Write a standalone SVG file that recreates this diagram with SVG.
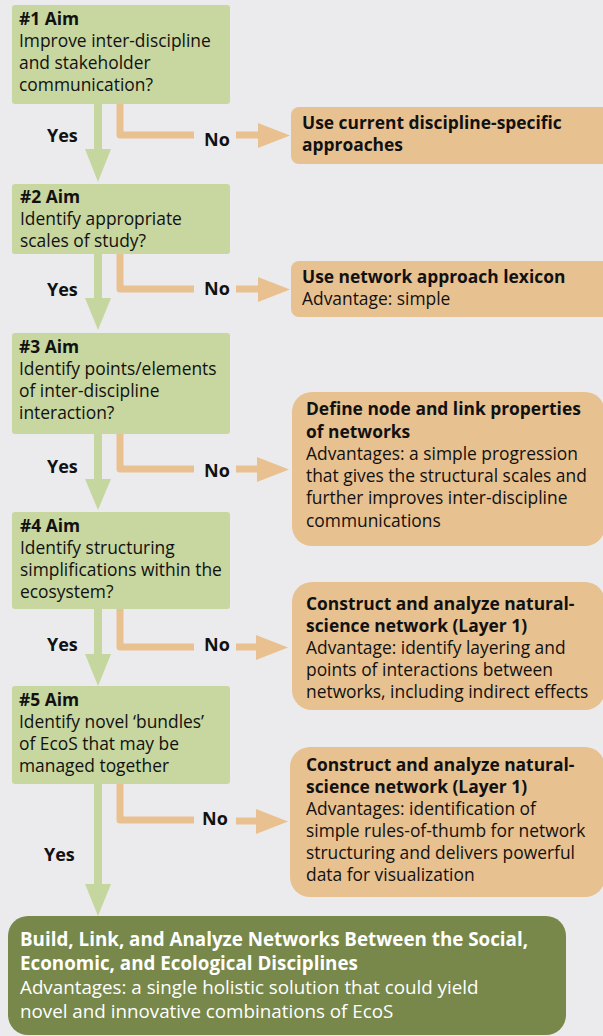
<svg xmlns="http://www.w3.org/2000/svg" width="603" height="1036" viewBox="0 0 603 1036">
<style>
text{font-family:"Open Sans","Liberation Sans",sans-serif;font-size:17.4px;fill:#111}
.b{font-weight:bold}
.aim{fill:#C8D6A0}
.res{fill:#E8C190}
.fin{fill:#77884A}
.w{fill:#fff;font-size:18.8px}
.g{stroke:#C6D69F;stroke-width:8;fill:none}
.o{stroke:#E9C08F;stroke-width:7;fill:none;stroke-linejoin:round}
.hg{fill:#C6D69F}
.ho{fill:#E9C08F}
.lbl{font-weight:bold;font-size:18px}
</style>
<rect width="603" height="1036" fill="#EBEBED"/>

<g id="connectors">
<path class="g" d="M98,104 V152"/>
<path class="hg" d="M85,149 L111,149 L98,182 Z"/>
<path class="o" d="M120,104 V135 H194"/>
<path class="o" d="M236,135 H262"/>
<path class="ho" d="M258,123 L290,135.5 L258,148 Z"/>
<text class="lbl" x="47" y="142">Yes</text>
<text class="lbl" x="204" y="146">No</text>

<path class="g" d="M98,254 V301"/>
<path class="hg" d="M85,298 L111,298 L98,330 Z"/>
<path class="o" d="M120,254 V289 H194"/>
<path class="o" d="M236,289 H262"/>
<path class="ho" d="M258,277 L290,289.5 L258,302 Z"/>
<text class="lbl" x="47" y="296">Yes</text>
<text class="lbl" x="204" y="295">No</text>

<path class="g" d="M98,434 V482"/>
<path class="hg" d="M85,479 L111,479 L98,510 Z"/>
<path class="o" d="M120,434 V469 H194"/>
<path class="o" d="M236,469 H261"/>
<path class="ho" d="M257,457 L289,469.5 L257,482 Z"/>
<text class="lbl" x="47" y="473">Yes</text>
<text class="lbl" x="204" y="477">No</text>

<path class="g" d="M98,609 V657"/>
<path class="hg" d="M85,654 L111,654 L98,686 Z"/>
<path class="o" d="M120,609 V647 H194"/>
<path class="o" d="M236,647 H260"/>
<path class="ho" d="M256,635 L288,647.5 L256,660 Z"/>
<text class="lbl" x="47" y="651">Yes</text>
<text class="lbl" x="204" y="651">No</text>

<path class="g" d="M98,784 V887"/>
<path class="hg" d="M85,884 L111,884 L98,916 Z"/>
<path class="o" d="M120,784 V820 H194"/>
<path class="o" d="M236,821 H260"/>
<path class="ho" d="M256,809 L288,821.5 L256,834 Z"/>
<text class="lbl" x="44" y="861">Yes</text>
<text class="lbl" x="202" y="825">No</text>
</g>

<g id="aim1">
<rect class="aim" x="12" y="5" width="218" height="99" rx="3"/>
<text x="19" y="25" class="b">#1 Aim</text>
<text x="19" y="47">Improve inter-discipline</text>
<text x="19" y="69">and stakeholder</text>
<text x="19" y="91">communication?</text>
</g>
<g id="res1">
<rect class="res" x="291" y="107" width="330" height="57" rx="8"/>
<text x="302" y="129" class="b">Use current discipline-specific</text>
<text x="302" y="151" class="b">approaches</text>
</g>

<g id="aim2">
<rect class="aim" x="12" y="184" width="218" height="70" rx="3"/>
<text x="20" y="203" class="b">#2 Aim</text>
<text x="20" y="225">Identify appropriate</text>
<text x="20" y="247">scales of study?</text>
</g>
<g id="res2">
<rect class="res" x="291" y="261" width="330" height="56" rx="8"/>
<text x="302" y="283" class="b">Use network approach lexicon</text>
<text x="302" y="305">Advantage: simple</text>
</g>

<g id="aim3">
<rect class="aim" x="12" y="333" width="218" height="101" rx="3"/>
<text x="19" y="353" class="b">#3 Aim</text>
<text x="19" y="375">Identify points/elements</text>
<text x="19" y="397">of inter-discipline</text>
<text x="19" y="419">interaction?</text>
</g>
<g id="res3">
<rect class="res" x="292" y="392" width="313" height="154" rx="20"/>
<text x="306" y="415" class="b">Define node and link properties</text>
<text x="306" y="438" class="b">of networks</text>
<text x="306" y="460">Advantages: a simple progression</text>
<text x="306" y="482">that gives the structural scales and</text>
<text x="306" y="504">further improves inter-discipline</text>
<text x="306" y="527">communications</text>
</g>

<g id="aim4">
<rect class="aim" x="12" y="512" width="218" height="97" rx="3"/>
<text x="20" y="532" class="b">#4 Aim</text>
<text x="20" y="554">Identify structuring</text>
<text x="20" y="576">simplifications within the</text>
<text x="20" y="598">ecosystem?</text>
</g>
<g id="res4">
<rect class="res" x="292" y="582" width="313" height="128" rx="20"/>
<text x="306" y="610" class="b">Construct and analyze natural-</text>
<text x="306" y="632" class="b">science network (Layer 1)</text>
<text x="306" y="654">Advantage: identify layering and</text>
<text x="306" y="676">points of interactions between</text>
<text x="306" y="698">networks, including indirect effects</text>
</g>

<g id="aim5">
<rect class="aim" x="12" y="686" width="218" height="98" rx="3"/>
<text x="19" y="706" class="b">#5 Aim</text>
<text x="19" y="728">Identify novel ‘bundles’</text>
<text x="19" y="750">of EcoS that may be</text>
<text x="19" y="772">managed together</text>
</g>
<g id="res5">
<rect class="res" x="290" y="747" width="315" height="150" rx="20"/>
<text x="306" y="771" class="b">Construct and analyze natural-</text>
<text x="306" y="793" class="b">science network (Layer 1)</text>
<text x="306" y="815">Advantages: identification of</text>
<text x="306" y="837">simple rules-of-thumb for network</text>
<text x="306" y="859">structuring and delivers powerful</text>
<text x="306" y="881">data for visualization</text>
</g>

<g id="final">
<rect class="fin" x="8" y="916" width="558" height="119" rx="20"/>
<text x="20" y="946" class="b w">Build, Link, and Analyze Networks Between the Social,</text>
<text x="20" y="970" class="b w">Economic, and Ecological Disciplines</text>
<text x="20" y="994" class="w">Advantages: a single holistic solution that could yield</text>
<text x="20" y="1018" class="w">novel and innovative combinations of EcoS</text>
</g>
</svg>
